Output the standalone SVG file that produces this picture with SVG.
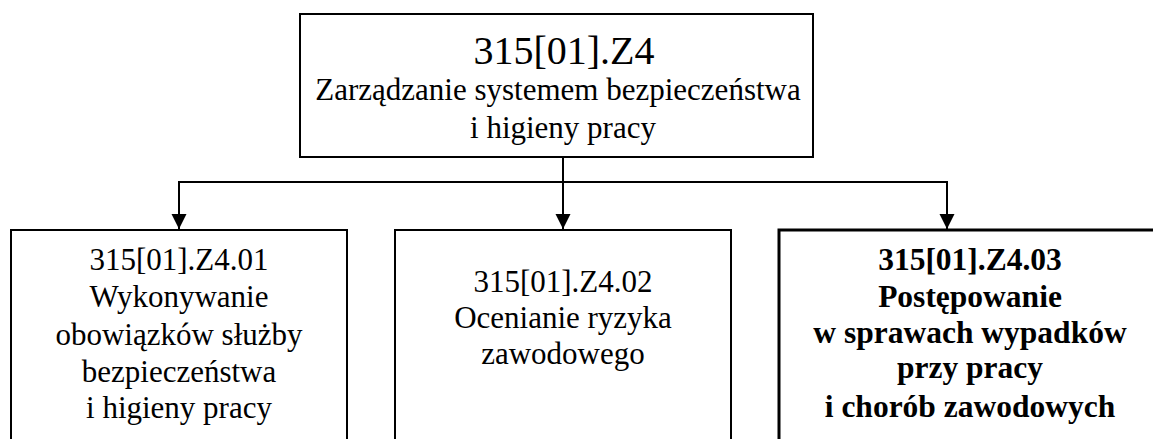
<svg xmlns="http://www.w3.org/2000/svg" width="1153" height="439" viewBox="0 0 1153 439">
<style>
.box{fill:#fff;stroke:#000;stroke-width:2}
.bold{stroke-width:3}
.t{font-family:"Liberation Serif","Times New Roman",serif;font-size:31px;fill:#000;text-anchor:middle}
.b{font-weight:bold;font-size:31.5px}
.big{font-size:40px}
.c{stroke:#000;stroke-width:2;fill:none}
</style>
<defs>
<marker id="ah" markerUnits="userSpaceOnUse" markerWidth="16" markerHeight="18" refX="15" refY="8" orient="auto">
<path d="M0,0.5 L15,8 L0,15.5 Z" fill="#000"/>
</marker>
</defs>
<g id="connectors">
<line class="c" x1="563" y1="157" x2="563" y2="229" marker-end="url(#ah)"/>
<line class="c" x1="179" y1="182" x2="947" y2="182"/>
<line class="c" x1="179" y1="181" x2="179" y2="229" marker-end="url(#ah)"/>
<line class="c" x1="947" y1="181" x2="947" y2="229" marker-end="url(#ah)"/>
</g>
<g id="top">
<rect class="box" x="300" y="14" width="513" height="143"/>
<text class="t big" x="564" y="64">315[01].Z4</text>
<text class="t" x="558" y="100">Zarządzanie systemem bezpieczeństwa</text>
<text class="t" x="563" y="138">i higieny pracy</text>
</g>
<g id="n01">
<rect class="box" x="11" y="230" width="336" height="220"/>
<text class="t" x="179" y="270">315[01].Z4.01</text>
<text class="t" x="179" y="307">Wykonywanie</text>
<text class="t" x="179" y="345">obowiązków służby</text>
<text class="t" x="179" y="382">bezpieczeństwa</text>
<text class="t" x="179" y="418">i higieny pracy</text>
</g>
<g id="n02">
<rect class="box" x="395" y="230" width="336" height="220"/>
<text class="t" x="563" y="292">315[01].Z4.02</text>
<text class="t" x="563" y="328">Ocenianie ryzyka</text>
<text class="t" x="563" y="364">zawodowego</text>
</g>
<g id="n03">
<rect class="box bold" x="779" y="230" width="390" height="220"/>
<text class="t b" x="970" y="270">315[01].Z4.03</text>
<text class="t b" x="970" y="307">Postępowanie</text>
<text class="t b" x="970" y="343">w sprawach wypadków</text>
<text class="t b" x="970" y="378">przy pracy</text>
<text class="t b" x="970" y="417">i chorób zawodowych</text>
</g>
</svg>
